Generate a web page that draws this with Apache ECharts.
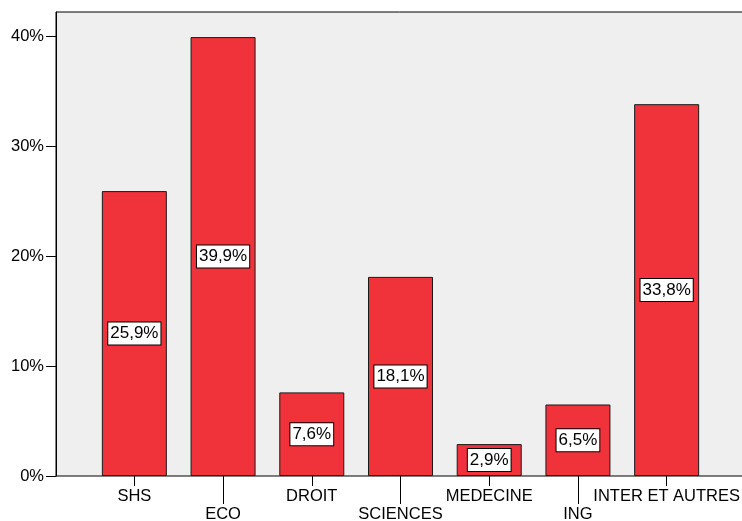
<!DOCTYPE html>
<html><head><meta charset="utf-8">
<script src="https://cdn.jsdelivr.net/npm/echarts@6/dist/echarts.min.js"></script>
<style>html,body{margin:0;padding:0;background:#fff}#c{width:742px;height:521px}</style>
</head><body><div id="c"></div>
<script>
const categories = ['SHS','ECO','DROIT','SCIENCES','MEDECINE','ING','INTER ET AUTRES'];
const values = [25.9, 39.9, 7.6, 18.1, 2.9, 6.5, 33.8];
const yTicks = [0, 10, 20, 30, 40];

const FONT = '"Liberation Sans", Arial, sans-serif';
const Y_MAX = 42.18;
const chart = echarts.init(document.getElementById('c'), null, {renderer:'canvas'});
const evenIdx = (i) => i % 2 === 0;
const oddIdx = (i) => i % 2 === 1;
chart.setOption({
  animation: false,
  grid: [
    {left: 56, right: -10, top: 12, bottom: 45, outerBoundsMode: 'none', containLabel: false,
     show: true, backgroundColor: '#EFEFEF', borderColor: '#000', borderWidth: 1},
    {left: 90, right: 31, top: 12, bottom: 45, outerBoundsMode: 'none', containLabel: false}
  ],
  xAxis: [
    {gridIndex: 0, type: 'value', show: false, min: 0, max: 1},
    {gridIndex: 1, type: 'category', data: categories, position: 'bottom',
     axisLine: {show: false},
     axisTick: {show: true, alignWithLabel: true, length: 10, interval: evenIdx, lineStyle: {color: '#000'}},
     axisLabel: {interval: evenIdx, margin: 12, color: '#000', fontFamily: FONT, fontSize: 16.5}},
    {gridIndex: 1, type: 'category', data: categories, position: 'bottom',
     axisLine: {show: false},
     axisTick: {show: true, alignWithLabel: true, length: 28, interval: oddIdx, lineStyle: {color: '#000'}},
     axisLabel: {interval: oddIdx, margin: 30, color: '#000', fontFamily: FONT, fontSize: 16.5}}
  ],
  yAxis: [
    {gridIndex: 0, type: 'value', min: 0, max: Y_MAX, interval: 10,
     axisLine: {show: true, lineStyle: {color: '#000'}},
     axisTick: {show: true, length: 10, lineStyle: {color: '#000'},
                customValues: yTicks},
     splitLine: {show: false},
     axisLabel: {margin: 12, color: '#000', fontFamily: FONT, fontSize: 16.5,
                 customValues: yTicks, formatter: v => v + '%'}},
    {gridIndex: 1, type: 'value', min: 0, max: Y_MAX, show: false}
  ],
  series: [{
    type: 'bar', xAxisIndex: 1, yAxisIndex: 1,
    data: values, barWidth: 65,
    itemStyle: {color: '#F0323B', borderColor: '#1a1a1a', borderWidth: 1},
    label: {show: true, position: 'inside', color: '#000', fontFamily: FONT, fontSize: 17,
            backgroundColor: '#fff', borderColor: '#000', borderWidth: 1, padding: [3, 2, 2, 2],
            formatter: p => String(p.value).replace('.', ',') + '%'}
  }]
});
</script></body></html>
